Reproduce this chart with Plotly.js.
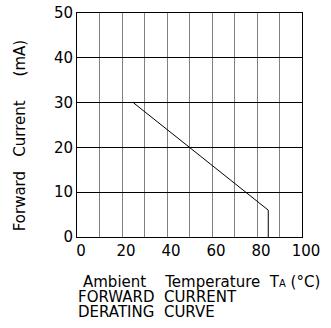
<!DOCTYPE html>
<html>
<head>
<meta charset="utf-8">
<script src="https://cdn.plot.ly/plotly-3.0.1.min.js"></script>
<style>html,body{margin:0;padding:0;background:#fff;}#chart{width:331px;height:328px;}</style>
</head>
<body>
<div id="chart"></div>
<script>
// Derating curve (ambient temperature in °C, forward current in mA)
var temperatures = [25, 85, 85];
var currents = [30, 6, 0];

var xTickVals = [0, 10, 20, 30, 40, 50, 60, 70, 80, 90, 100];
var xTickText = ['0', '', '20', '', '40', '', '60', '', '80', '', '100'];
var yTickVals = [0, 10, 20, 30, 40, 50];
var yTickText = ['0', '10', '20', '30', '40', '50'];

var FONT = 'DejaVu Sans, sans-serif';
function sp(n) { return new Array(n + 1).join('&nbsp;'); }

var trace = {
  x: temperatures,
  y: currents,
  mode: 'lines',
  type: 'scatter',
  line: {color: '#000', width: 1},
  hoverinfo: 'skip'
};

var layout = {
  width: 331,
  height: 328,
  margin: {l: 77, r: 29, t: 13, b: 91},
  paper_bgcolor: '#fff',
  plot_bgcolor: '#fff',
  showlegend: false,
  font: {family: FONT, size: 15, color: '#000'},
  xaxis: {
    range: [0, 100],
    tickvals: xTickVals,
    ticktext: xTickText,
    showgrid: true,
    gridcolor: '#808080',
    gridwidth: 1,
    zeroline: false,
    showline: true,
    linecolor: '#000',
    linewidth: 1,
    mirror: true,
    ticks: '',
    ticklen: 0,
    ticklabelshift: 4,
    tickfont: {family: FONT, size: 15, color: '#000'},
    fixedrange: true
  },
  yaxis: {
    range: [0, 50],
    tickvals: yTickVals,
    ticktext: yTickText,
    showgrid: true,
    gridcolor: '#000',
    gridwidth: 1,
    zeroline: false,
    showline: true,
    linecolor: '#000',
    linewidth: 1,
    mirror: true,
    ticks: '',
    ticklen: 0,
    tickfont: {family: FONT, size: 15, color: '#000'},
    fixedrange: true
  },
  annotations: [
    {
      text: 'Forward' + sp(3) + 'Current' + sp(5) + '(mA)',
      textangle: -90,
      xref: 'paper', yref: 'paper',
      x: -0.253, y: 0.45,
      xanchor: 'center', yanchor: 'middle',
      showarrow: false,
      font: {family: FONT, size: 15, color: '#000'}
    },
    {
      text: 'Ambient' + sp(4) + 'Temperature' + sp(2) + 'T<span style="font-size:10px">A</span>' + sp(1) + '(°C)',
      xref: 'paper', yref: 'paper',
      x: 0.018, y: -0.201,
      xanchor: 'left', yanchor: 'middle',
      showarrow: false,
      font: {family: FONT, size: 15, color: '#000'}
    },
    {
      text: 'FORWARD' + sp(2) + 'CURRENT',
      xref: 'paper', yref: 'paper',
      x: -0.004, y: -0.268,
      xanchor: 'left', yanchor: 'middle',
      showarrow: false,
      font: {family: FONT, size: 15, color: '#000'}
    },
    {
      text: 'DERATING' + sp(2) + 'CURVE',
      xref: 'paper', yref: 'paper',
      x: -0.004, y: -0.335,
      xanchor: 'left', yanchor: 'middle',
      showarrow: false,
      font: {family: FONT, size: 15, color: '#000'}
    }
  ]
};

Plotly.newPlot('chart', [trace], layout, {staticPlot: true, displayModeBar: false});
</script>
</body>
</html>
